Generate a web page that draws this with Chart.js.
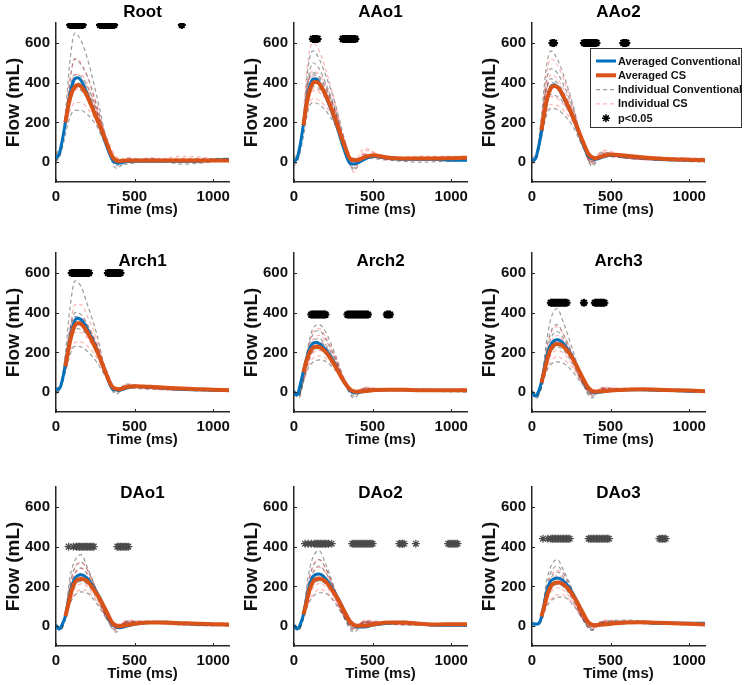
<!DOCTYPE html>
<html>
<head>
<meta charset="utf-8">
<title>Flow curves, conventional vs CS</title>
<script src="https://cdn.jsdelivr.net/npm/chart.js@4.4.1/dist/chart.umd.min.js"></script>
<style>
  html, body { margin: 0; padding: 0; background: #fff; overflow: hidden; }
  #grid { position: relative; width: 750px; height: 685px; }
  #grid canvas { position: absolute; }
</style>
</head>
<body>
<div id="grid"></div>
<script>
// ---- data ----
const T_AVG = [0,20,40,60,80,100,120,140,160,180,200,240,280,320,360,400,450,500,600,700,800,900,1000,1100];
const T_IND = [0,30,60,90,120,160,200,260,320,380,450,600,800,1100];
const X_TICKS = [0, 500, 1000];
const Y_TICKS = [0, 200, 400, 600];
const TITLES = ['Root', 'AAo1', 'AAo2', 'Arch1', 'Arch2', 'Arch3', 'DAo1', 'DAo2', 'DAo3'];
const SIG_LEVELS = [690, 620, 600, 600, 390, 450, 400, 415, 440];

const rootConv = [20,40,110,200,300,380,420,425,410,380,340,260,175,85,10,-5,3,5,5,5,5,5,10,15];
const rootCs = [null,null,null,200,290,350,380,388,380,360,330,255,180,100,25,5,8,8,8,8,8,8,8,8];
const rootIndConv = [
  [10,60,250,520,650,610,520,330,120,0,10,5,0,10],
  [30,70,210,420,520,490,430,280,110,-20,20,10,5,5],
  [0,40,140,230,260,260,240,180,80,10,-10,20,-10,10],
  [40,80,180,320,380,360,320,230,100,-30,0,10,15,20],
  [20,60,200,380,440,430,380,260,100,-10,10,5,10,15],
  [10,50,190,350,400,390,350,250,110,0,5,15,5,10]
];
const rootIndCs = [
  [null,null,230,420,520,500,430,290,120,10,20,10,30,10],
  [null,null,200,360,440,440,390,270,110,0,15,5,20,5],
  [null,null,180,260,300,300,270,200,90,20,5,15,0,10],
  [null,null,190,300,360,370,340,250,130,30,10,20,10,5],
  [null,null,210,370,420,415,370,260,110,10,10,10,15,10],
  [null,null,195,330,370,365,330,240,100,0,5,10,10,5]
];
const rootSig = [90,100,110,120,130,140,150,160,170,280,290,300,310,320,330,340,350,360,370,800];

const aao1Conv = [5,20,90,190,300,380,418,420,400,370,335,255,160,60,-10,-5,15,30,20,15,15,15,10,10];
const aao1Cs = [null,null,null,185,290,360,398,405,395,370,340,265,175,85,15,10,25,35,22,18,18,18,20,22];
const aao1IndConv = [
  [0,40,220,480,560,520,440,300,120,-30,30,20,10,20],
  [10,50,200,400,450,430,380,260,100,-20,40,15,20,15],
  [-20,20,130,260,300,290,260,190,80,-10,20,10,0,10],
  [20,60,220,420,500,470,400,270,90,-40,30,25,15,5],
  [0,40,200,400,440,420,370,260,100,-20,30,20,15,10],
  [10,30,180,350,380,370,330,230,90,-10,25,15,10,10]
];
const aao1IndCs = [
  [null,null,260,520,600,560,470,300,100,-50,60,20,30,20],
  [null,null,200,400,460,440,390,270,110,0,70,10,25,30],
  [null,null,170,280,320,310,280,210,100,-10,20,30,10,20],
  [null,null,190,330,370,360,330,240,110,10,40,20,20,10],
  [null,null,220,400,430,410,360,250,100,-20,40,20,20,15],
  [null,null,190,340,360,350,320,230,95,0,30,15,15,10]
];
const aao1Sig = [120,130,140,150,310,320,330,340,350,360,370,380,390];

const aao2Conv = [10,15,70,150,250,330,378,388,378,355,325,260,185,100,30,15,25,35,30,22,15,12,10,10];
const aao2Cs = [null,null,null,160,255,330,372,383,378,360,330,265,190,110,40,20,30,38,32,25,18,14,12,10];
const aao2IndConv = [
  [0,40,230,470,560,520,440,290,100,0,40,20,10,0],
  [10,30,180,360,420,400,350,250,100,10,50,25,15,10],
  [-10,20,120,230,270,265,240,180,80,-10,30,20,10,5],
  [20,50,200,400,470,450,390,270,110,-20,40,30,20,10],
  [10,30,190,370,400,390,340,240,90,0,40,20,15,10],
  [0,20,160,310,340,330,300,215,85,5,35,20,10,5]
];
const aao2IndCs = [
  [null,null,210,430,520,490,420,280,100,-10,60,30,20,20],
  [null,null,170,330,390,380,340,240,100,10,40,25,15,10],
  [null,null,150,250,290,285,260,200,90,0,30,20,10,5],
  [null,null,180,360,440,420,370,260,110,20,50,30,25,15],
  [null,null,190,360,390,380,340,240,95,0,45,25,15,15],
  [null,null,160,300,330,320,290,210,90,10,35,20,10,10]
];
const aao2Sig = [130,140,330,340,350,360,370,380,390,400,410,580,590,600];

const arch1Conv = [15,15,60,140,230,310,360,372,365,345,315,250,170,85,15,10,20,28,25,20,15,12,10,10];
const arch1Cs = [null,null,null,130,220,290,335,347,342,325,300,240,170,90,25,15,25,30,27,22,18,15,12,10];
const arch1IndConv = [
  [0,30,200,430,560,530,440,290,90,-10,30,20,10,10],
  [20,40,160,320,400,390,340,235,90,10,40,20,15,10],
  [-10,20,100,190,230,228,205,150,70,0,20,15,10,5],
  [10,40,150,290,360,355,315,230,110,20,30,25,15,10],
  [10,30,150,320,380,370,330,235,90,0,30,20,10,10],
  [0,20,120,260,320,315,285,205,85,10,25,20,10,5]
];
const arch1IndCs = [
  [null,null,150,330,440,440,380,265,100,0,40,25,15,10],
  [null,null,130,265,340,340,305,222,100,10,30,20,10,10],
  [null,null,110,200,250,252,232,172,80,10,25,15,10,5],
  [null,null,140,285,375,375,335,242,110,20,35,25,15,15],
  [null,null,140,300,360,355,320,230,95,10,35,20,15,10],
  [null,null,120,245,300,300,270,195,85,10,30,20,10,10]
];
const arch1Sig = [100,110,120,130,140,150,160,170,180,190,200,210,330,340,350,360,370,380,390,400,410];

const arch2Conv = [0,-15,40,105,170,220,245,250,245,232,215,170,110,50,5,-3,5,10,12,12,10,8,8,8];
const arch2Cs = [null,null,null,100,160,200,222,228,227,218,203,160,105,50,12,2,5,10,12,12,10,10,10,10];
const arch2IndConv = [
  [0,-20,80,230,320,340,305,195,60,-20,20,10,5,10],
  [10,-10,70,190,255,270,240,165,60,-10,15,15,10,5],
  [-10,-30,50,120,150,162,155,112,50,0,10,10,5,0],
  [0,-10,80,215,290,310,270,175,50,-30,20,10,15,10],
  [0,-20,60,175,240,255,230,155,55,-10,15,10,10,5],
  [5,-15,55,150,205,220,200,140,50,0,10,15,10,5]
];
const arch2IndCs = [
  [null,null,90,225,300,320,280,185,70,0,20,15,10,20],
  [null,null,75,175,235,250,228,155,60,-10,15,10,5,10],
  [null,null,65,135,170,182,170,122,50,10,10,15,10,5],
  [null,null,85,200,265,285,258,175,70,-5,25,15,10,15],
  [null,null,70,170,225,240,220,150,60,0,15,15,10,10],
  [null,null,60,145,195,210,195,135,55,5,15,10,10,5]
];
const arch2Sig = [110,120,130,140,150,160,170,180,190,200,340,350,360,370,380,390,400,410,420,430,440,450,460,470,590,600,610];

const arch3Conv = [0,-20,0,50,130,200,240,258,263,258,245,200,140,70,15,-3,2,8,12,12,10,8,5,5];
const arch3Cs = [null,null,null,47,110,175,218,237,242,240,230,192,138,75,20,2,5,8,12,14,12,10,8,5];
const arch3IndConv = [
  [0,-30,50,240,370,420,350,210,60,-20,20,10,10,5],
  [10,-20,35,180,270,305,270,175,50,-10,15,15,10,5],
  [-10,-30,20,100,140,152,145,102,40,0,10,10,5,0],
  [0,-10,45,205,305,340,290,185,50,-30,20,15,10,10],
  [0,-20,30,160,240,270,245,160,50,-10,15,10,10,5],
  [5,-20,25,130,200,228,210,140,45,0,10,15,10,5]
];
const arch3IndCs = [
  [null,null,55,200,295,330,290,185,60,-10,20,20,10,5],
  [null,null,45,150,225,255,228,155,50,0,15,15,10,5],
  [null,null,38,110,155,178,165,122,50,10,10,10,5,0],
  [null,null,48,168,250,285,258,175,60,-20,25,15,15,10],
  [null,null,40,150,220,248,225,150,55,0,20,15,10,5],
  [null,null,35,125,185,210,195,135,50,5,15,10,10,5]
];
const arch3Sig = [120,130,140,150,160,170,180,190,200,210,220,330,400,410,420,430,440,450,460];

const dao1Conv = [5,-15,10,50,130,200,240,255,258,252,240,195,140,70,10,-8,0,10,18,20,15,10,8,8];
const dao1Cs = [null,null,null,50,115,180,220,235,237,235,225,185,135,75,15,0,5,12,18,18,15,12,10,8];
const dao1IndConv = [
  [0,-20,70,250,330,360,295,175,40,-20,20,15,10,5],
  [10,-10,55,195,265,292,260,165,50,-10,25,20,10,5],
  [-10,-20,35,115,155,172,165,112,40,0,15,15,5,0],
  [0,-10,60,215,295,322,282,175,50,-30,20,25,15,10],
  [5,-15,45,170,240,262,240,155,45,-10,20,20,10,5],
  [0,-15,40,145,205,225,210,140,45,0,15,15,10,5]
];
const dao1IndCs = [
  [null,null,70,210,290,322,282,175,60,-10,25,20,10,10],
  [null,null,55,168,235,265,240,155,50,0,20,15,10,5],
  [null,null,45,118,162,184,176,124,50,10,15,15,5,0],
  [null,null,62,185,262,292,266,175,60,-20,30,20,15,10],
  [null,null,50,160,225,248,228,150,55,0,20,15,10,10],
  [null,null,45,135,190,212,198,135,50,5,15,15,10,5]
];
const dao1Sig = [80,110,130,140,150,160,170,180,190,200,210,220,230,240,390,400,410,420,430,440,450,460];

const dao2Conv = [5,-15,10,58,140,210,248,260,262,255,240,195,140,75,20,-5,-5,5,15,20,12,5,5,5];
const dao2Cs = [null,null,null,58,120,185,222,236,238,235,225,185,135,75,20,2,2,8,18,18,12,8,10,10];
const dao2IndConv = [
  [0,-20,70,250,345,380,315,185,40,-30,20,10,5,10],
  [10,-10,55,190,270,302,272,175,50,-10,25,15,10,5],
  [-10,-20,35,108,148,168,165,118,45,0,15,10,5,0],
  [0,-10,62,215,300,335,292,180,50,-20,20,20,15,10],
  [5,-15,48,172,245,268,245,158,45,-10,20,15,10,5],
  [0,-15,40,145,205,228,212,142,45,0,15,15,10,5]
];
const dao2IndCs = [
  [null,null,70,215,300,335,292,180,55,-10,25,15,10,15],
  [null,null,55,165,236,265,245,160,50,0,20,15,10,10],
  [null,null,45,115,158,184,176,124,50,5,15,10,5,5],
  [null,null,62,182,262,296,270,175,60,-15,30,20,15,10],
  [null,null,50,162,228,250,230,152,55,0,20,15,10,10],
  [null,null,45,135,190,214,200,137,50,5,15,15,10,5]
];
const dao2Sig = [70,90,110,130,140,150,160,170,180,190,200,210,220,240,370,380,390,400,410,420,430,440,450,460,470,480,490,500,670,680,690,700,775,980,990,1000,1010,1020,1030,1040];

const dao3Conv = [13,10,12,45,125,195,228,238,242,238,228,190,135,70,15,5,8,12,18,20,15,15,15,15];
const dao3Cs = [null,null,null,48,105,165,200,216,220,218,210,178,130,72,18,5,8,12,18,20,17,15,12,8];
const dao3IndConv = [
  [10,10,45,215,300,335,282,175,40,-20,20,20,15,10],
  [20,10,35,165,240,272,246,155,40,-10,25,25,15,15],
  [0,0,28,92,126,146,146,108,40,0,15,15,10,10],
  [10,20,36,182,270,302,266,170,45,-20,20,30,20,15],
  [15,10,30,150,220,246,228,148,42,-10,20,20,15,10],
  [10,10,25,125,185,210,198,132,40,0,15,20,15,10]
];
const dao3IndCs = [
  [null,null,55,182,252,282,256,165,50,-10,25,20,15,10],
  [null,null,46,142,202,230,214,145,45,0,20,20,10,5],
  [null,null,36,100,135,158,156,114,40,5,15,15,10,5],
  [null,null,46,158,225,256,236,155,55,-15,30,25,15,10],
  [null,null,40,140,200,225,210,140,45,0,20,20,10,10],
  [null,null,35,118,170,193,182,125,42,5,15,15,10,5]
];
const dao3Sig = [70,100,120,130,140,150,160,170,180,190,200,210,220,230,240,360,370,380,390,400,410,420,430,440,450,460,470,480,490,810,820,830,840,850];

const PANELS = [
  { conv: rootConv,  cs: rootCs,  indConv: rootIndConv,  indCs: rootIndCs,  sig: rootSig },
  { conv: aao1Conv,  cs: aao1Cs,  indConv: aao1IndConv,  indCs: aao1IndCs,  sig: aao1Sig },
  { conv: aao2Conv,  cs: aao2Cs,  indConv: aao2IndConv,  indCs: aao2IndCs,  sig: aao2Sig },
  { conv: arch1Conv, cs: arch1Cs, indConv: arch1IndConv, indCs: arch1IndCs, sig: arch1Sig },
  { conv: arch2Conv, cs: arch2Cs, indConv: arch2IndConv, indCs: arch2IndCs, sig: arch2Sig },
  { conv: arch3Conv, cs: arch3Cs, indConv: arch3IndConv, indCs: arch3IndCs, sig: arch3Sig },
  { conv: dao1Conv,  cs: dao1Cs,  indConv: dao1IndConv,  indCs: dao1IndCs,  sig: dao1Sig },
  { conv: dao2Conv,  cs: dao2Cs,  indConv: dao2IndConv,  indCs: dao2IndCs,  sig: dao2Sig },
  { conv: dao3Conv,  cs: dao3Cs,  indConv: dao3IndConv,  indCs: dao3IndCs,  sig: dao3Sig }
];

// ---- layout / style ----
const FONT = '"Liberation Sans", Arial, Helvetica, sans-serif';
const AXIS_COLOR = '#262626';
const BLUE = '#0072BD';
const ORANGE = '#D95319';
const GRAY_DASH = 'rgba(60,60,60,0.5)';
const PINK_DASH = 'rgba(255,70,70,0.4)';
const COL_LEFT = [0, 238, 476];
const ROW_TOP = [0, 230, 464];
const CANVAS_W = [238, 238, 274];
const CANVAS_H = 221;
const AREA_RIGHT = 229;
const TITLE_Y = [12, 31, 29];
const MARKER = [
  { color: '#000', width: 2 },
  { color: '#000', width: 2 },
  { color: '#4a4a4a', width: 1.2 }
];

Chart.defaults.font.family = FONT;
Chart.defaults.font.weight = 'bold';
Chart.defaults.color = '#111';

const toPoints = (times, values) =>
  times.map((t, i) => ({ x: t, y: values[i] })).filter(p => p.y !== null);

// ticks that point into the plot, like the original axes
const innerTicks = {
  id: 'innerTicks',
  afterDraw(chart) {
    const { ctx, chartArea: a, scales: { x, y } } = chart;
    ctx.save();
    ctx.strokeStyle = AXIS_COLOR;
    ctx.lineWidth = 1;
    ctx.beginPath();
    x.ticks.forEach(t => {
      const px = Math.round(x.getPixelForValue(t.value)) + 0.5;
      ctx.moveTo(px, a.bottom); ctx.lineTo(px, a.bottom - 3);
    });
    y.ticks.forEach(t => {
      const py = Math.round(y.getPixelForValue(t.value)) + 0.5;
      ctx.moveTo(a.left, py); ctx.lineTo(a.left + 3, py);
    });
    ctx.stroke();
    ctx.restore();
  }
};

const panelTitle = {
  id: 'panelTitle',
  afterDraw(chart, args, opts) {
    const { ctx, chartArea: a } = chart;
    ctx.save();
    ctx.font = 'bold 17px ' + FONT;
    ctx.fillStyle = '#000';
    ctx.textAlign = 'center';
    ctx.textBaseline = 'middle';
    ctx.fillText(opts.text, (a.left + a.right) / 2, opts.y);
    ctx.restore();
  }
};

const drawStar = (ctx, x, y, r) => {
  ctx.beginPath();
  for (let k = 0; k < 4; k++) {
    const ang = k * Math.PI / 4;
    ctx.moveTo(x - r * Math.cos(ang), y - r * Math.sin(ang));
    ctx.lineTo(x + r * Math.cos(ang), y + r * Math.sin(ang));
  }
  ctx.stroke();
};

// boxed legend drawn over the third panel
const legendBox = {
  id: 'legendBox',
  afterDraw(chart, args, opts) {
    if (!opts.show) return;
    const { ctx } = chart;
    const b = opts.box;
    ctx.save();
    ctx.fillStyle = '#fff';
    ctx.fillRect(b.x, b.y, b.w, b.h);
    ctx.strokeStyle = '#333';
    ctx.lineWidth = 1;
    ctx.strokeRect(b.x + 0.5, b.y + 0.5, b.w, b.h);
    const items = chart.data.datasets.filter(d => d.legendRank !== undefined)
      .sort((p, q) => p.legendRank - q.legendRank);
    ctx.font = 'bold 11px ' + FONT;
    ctx.textBaseline = 'middle';
    items.forEach((d, i) => {
      const yy = b.y + 13 + i * 14.3;
      const x0 = b.x + 6, x1 = b.x + 26;
      if (d.showLine === false) {
        ctx.strokeStyle = d.pointBorderColor;
        ctx.lineWidth = 1.5;
        drawStar(ctx, (x0 + x1) / 2, yy, 4);
      } else {
        ctx.strokeStyle = d.borderColor;
        ctx.lineWidth = d.borderWidth;
        ctx.setLineDash(d.borderDash || []);
        ctx.beginPath(); ctx.moveTo(x0, yy); ctx.lineTo(x1, yy); ctx.stroke();
        ctx.setLineDash([]);
      }
      ctx.fillStyle = '#111';
      ctx.fillText(d.label, x1 + 2, yy + 0.5);
    });
    ctx.restore();
  }
};

const buildChart = (panel, idx) => {
  const row = Math.floor(idx / 3), col = idx % 3;
  const canvas = document.createElement('canvas');
  canvas.width = CANVAS_W[col];
  canvas.height = CANVAS_H;
  canvas.style.left = COL_LEFT[col] + 'px';
  canvas.style.top = ROW_TOP[row] + 'px';
  document.getElementById('grid').appendChild(canvas);

  const mk = MARKER[row];
  const datasets = [
    {
      label: 'p<0.05', legendRank: 4,
      data: panel.sig.map(t => ({ x: t, y: SIG_LEVELS[idx] })),
      showLine: false, pointStyle: 'star', pointRadius: 4,
      pointBorderColor: mk.color, pointBorderWidth: mk.width, borderColor: mk.color,
      order: 0
    },
    {
      label: 'Averaged CS', legendRank: 1,
      data: toPoints(T_AVG, panel.cs),
      borderColor: ORANGE, borderWidth: 4, pointRadius: 0, order: 1
    },
    {
      label: 'Averaged Conventional', legendRank: 0,
      data: toPoints(T_AVG, panel.conv),
      borderColor: BLUE, borderWidth: 3, pointRadius: 0, order: 2
    }
  ];
  panel.indCs.forEach((v, k) => datasets.push({
    label: 'Individual CS', legendRank: k === 0 ? 3 : undefined,
    data: toPoints(T_IND, v),
    borderColor: PINK_DASH, borderWidth: 1.2, borderDash: [4, 3], pointRadius: 0, order: 3
  }));
  panel.indConv.forEach((v, k) => datasets.push({
    label: 'Individual Conventional', legendRank: k === 0 ? 2 : undefined,
    data: toPoints(T_IND, v),
    borderColor: GRAY_DASH, borderWidth: 1.2, borderDash: [4, 3], pointRadius: 0, order: 4
  }));

  return new Chart(canvas, {
    type: 'line',
    data: { datasets },
    plugins: [innerTicks, panelTitle, legendBox],
    options: {
      responsive: false,
      animation: false,
      events: [],
      layout: { padding: { left: 0, top: 23, right: CANVAS_W[col] - AREA_RIGHT, bottom: 0 } },
      elements: { line: { cubicInterpolationMode: 'monotone' } },
      plugins: {
        legend: { display: false },
        tooltip: { enabled: false },
        panelTitle: { text: TITLES[idx], y: TITLE_Y[row] },
        legendBox: { show: idx === 2, box: { x: 114, y: 48, w: 151, h: 79 } }
      },
      scales: {
        x: {
          type: 'linear', min: 0, max: 1100,
          afterBuildTicks: s => { s.ticks = X_TICKS.map(v => ({ value: v })); },
          afterFit: s => { s.height = CANVAS_H - 182; },
          grid: { display: true, drawOnChartArea: false, drawTicks: false },
          border: { color: AXIS_COLOR, width: 1.5 },
          ticks: { font: { size: 15, weight: 'bold' }, color: '#111', padding: 6, maxRotation: 0, autoSkip: false, callback: v => String(v) },
          title: { display: true, text: 'Time (ms)', color: '#111', font: { size: 15, weight: 'bold' }, padding: { top: 0, bottom: 2 } }
        },
        y: {
          min: -100, max: 700,
          afterBuildTicks: s => { s.ticks = Y_TICKS.map(v => ({ value: v })); },
          afterFit: s => { s.width = 56; },
          grid: { display: true, drawOnChartArea: false, drawTicks: false },
          border: { color: AXIS_COLOR, width: 1.5 },
          ticks: { font: { size: 15, weight: 'bold' }, color: '#111', padding: 6, callback: v => String(v) },
          title: { display: true, text: 'Flow (mL)', color: '#111', font: { size: 19, weight: 'bold' }, padding: { top: 2, bottom: 0 } }
        }
      }
    }
  });
};

PANELS.forEach(buildChart);
</script>
</body>
</html>
